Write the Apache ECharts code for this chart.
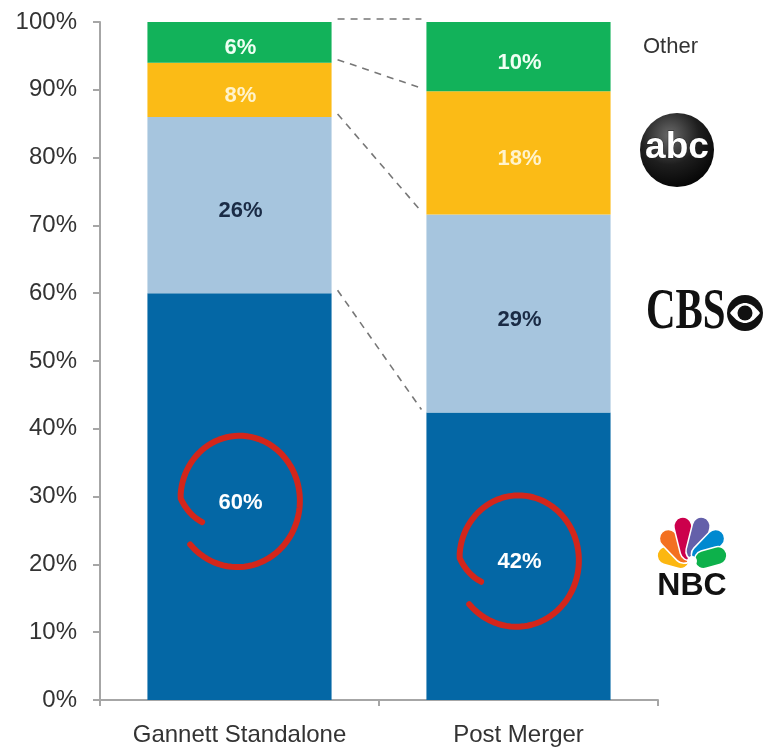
<!DOCTYPE html>
<html>
<head>
<meta charset="utf-8">
<style>html,body{margin:0;padding:0;background:#fff;}#c{width:763px;height:747px;}</style>
<script src="https://cdn.jsdelivr.net/npm/echarts@6/dist/echarts.min.js"></script>
</head>
<body>
<div id="c"></div>
<script>
// ---- data ----
const categories = ['Gannett Standalone', 'Post Merger'];
const nbc   = [60, 42.4];
const cbs   = [26, 29.2];
const abc   = [8, 18.2];
const other = [6, 10.2];
const yTicks = [0, 10, 20, 30, 40, 50, 60, 70, 80, 90, 100];
const networkNames = ['NBC', 'CBS', 'ABC', 'Other'];

const FONT = '"Liberation Sans", Arial, sans-serif';
const colors = { NBC: '#0467a5', CBS: '#a6c5de', ABC: '#fbbb16', Other: '#12b25a' };
const labelColors = { NBC: '#ffffff', CBS: '#1a2b45', ABC: '#fff3cc', Other: '#eefff3' };
const seriesData = { NBC: nbc, CBS: cbs, ABC: abc, Other: other };

// cumulative boundaries for connectors
function cum(i, upto) { let s = 0; for (let k = 0; k <= upto; k++) s += seriesData[networkNames[k]][i]; return s; }
const connectorData = [];
for (let k = 0; k < networkNames.length; k++) {
  connectorData.push([0, Math.min(100, cum(0, k)), Math.min(100, cum(1, k))]);
}
const circleData = [[0, nbc[0] / 2], [1, nbc[1] / 2]];

const chart = echarts.init(document.getElementById('c'));

const barSeries = networkNames.map(n => ({
  name: n,
  type: 'bar',
  stack: 'share',
  barWidth: '66%',
  data: seriesData[n],
  itemStyle: { color: colors[n] },
  label: {
    show: true,
    position: 'inside',
    offset: [1, 6],
    formatter: p => Math.round(p.value) + '%',
    fontFamily: FONT,
    fontWeight: 'bold',
    fontSize: 22,
    color: labelColors[n]
  },
  silent: true
}));

// CBS eye lens polygon
function lens(cx, cy, w, h) {
  const pts = [];
  const N = 20;
  for (let i = 0; i <= N; i++) { const t = -1 + 2 * i / N; pts.push([cx + t * w, cy - h * (1 - t * t)]); }
  for (let i = N - 1; i > 0; i--) { const t = -1 + 2 * i / N; pts.push([cx + t * w, cy + h * (1 - t * t)]); }
  return pts;
}

// NBC peacock feathers
const featherColors = ['#fcb711', '#f37021', '#cc004c', '#6460aa', '#0089d0', '#0db14b'];
const featherAngles = [-74, -44, -14, 14, 44, 74];
const featherLens = [36, 43, 47, 47, 43, 36];
const feathers = featherColors.map((c, i) => ({
  type: 'rect',
  x: 692, y: 563,
  rotation: -featherAngles[i] * Math.PI / 180,
  shape: { x: -9, y: -featherLens[i], width: 18, height: featherLens[i] - 3, r: 9 },
  style: { fill: c, stroke: '#fff', lineWidth: 1.5 },
  z: 10
}));

const option = {
  animation: false,
  backgroundColor: '#ffffff',
  grid: { left: 100, right: 105, top: 22, bottom: 45 },
  xAxis: {
    type: 'category',
    data: categories,
    axisLine: { lineStyle: { color: '#a6a6a6', width: 2 } },
    axisTick: { show: true, length: 6, lineStyle: { color: '#a6a6a6', width: 2 } },
    axisLabel: { fontFamily: FONT, fontSize: 24, color: '#333', margin: 23 }
  },
  yAxis: {
    type: 'value',
    min: yTicks[0], max: yTicks[yTicks.length - 1], interval: yTicks[1] - yTicks[0],
    axisLine: { show: true, lineStyle: { color: '#a6a6a6', width: 2 } },
    axisTick: { show: true, length: 7, lineStyle: { color: '#a6a6a6', width: 2 } },
    splitLine: { show: false },
    axisLabel: { formatter: '{value}%', fontFamily: FONT, fontSize: 24, color: '#333', margin: 23 }
  },
  series: barSeries.concat([
    {
      type: 'custom',
      name: 'connectors',
      silent: true,
      z: 5,
      data: connectorData,
      encode: { x: 0, y: [1, 2] },
      renderItem: function (params, api) {
        const p0 = api.coord([0, api.value(1)]);
        const p1 = api.coord([1, api.value(2)]);
        const hw = api.size([1, 0])[0] * 0.66 / 2;
        return {
          type: 'line',
          shape: { x1: p0[0] + hw + 6, y1: p0[1] - 3, x2: p1[0] - hw - 5, y2: p1[1] - 3 },
          style: { stroke: '#777', lineWidth: 1.6, lineDash: [7, 6] }
        };
      }
    },
    {
      type: 'custom',
      name: 'circles',
      silent: true,
      z: 6,
      data: circleData,
      encode: { x: 0, y: 1 },
      renderItem: function (params, api) {
        const c = api.coord([api.value(0), api.value(1)]);
        const pts = [];
        const N = 90;
        for (let k = 0; k <= N; k++) {
          const t = k / N;
          const phi = (150 + 349 * t) * Math.PI / 180;
          let r = t < 0.09 ? 42 + 16 * (t / 0.09) : 58 + 6 * (t - 0.09) / 0.91;
          pts.push([c[0] - 1 + r * Math.cos(phi), c[1] + 3 + r * 1.07 * Math.sin(phi)]);
        }
        return {
          type: 'polyline',
          shape: { points: pts },
          style: { stroke: '#d3261b', lineWidth: 6, fill: null, lineCap: 'round', lineJoin: 'round' }
        };
      }
    }
  ]),
  graphic: {
    elements: [
      { type: 'text', left: 643, top: 36, style: { text: 'Other', font: '22px ' + FONT, fill: '#333' } },
      // ABC logo
      {
        type: 'circle', shape: { cx: 677, cy: 150, r: 37 },
        style: {
          fill: {
            type: 'radial', x: 0.4, y: 0.3, r: 0.8,
            colorStops: [{ offset: 0, color: '#6a6a6a' }, { offset: 0.5, color: '#1e1e1e' }, { offset: 1, color: '#000' }]
          }
        }
      },
      {
        type: 'text', x: 677, y: 148,
        style: { text: 'abc', font: 'bold 37px ' + FONT, fill: '#fff', align: 'center', verticalAlign: 'middle', stroke: '#222', lineWidth: 1 },
        z: 10
      },
      // CBS logo
      {
        type: 'text', x: 646, y: 314, scaleX: 0.73,
        style: { text: 'CBS', font: 'bold 56px "Liberation Serif", "DejaVu Serif", serif', fill: '#111', align: 'left', verticalAlign: 'middle' }
      },
      { type: 'circle', shape: { cx: 745, cy: 313, r: 18 }, style: { fill: '#111' } },
      { type: 'polygon', shape: { points: lens(745, 313, 15, 10) }, style: { fill: '#fff' }, z: 10 },
      { type: 'circle', shape: { cx: 745, cy: 313, r: 7.5 }, style: { fill: '#111' }, z: 11 },
      // NBC logo
      ...feathers,
      { type: 'circle', shape: { cx: 692, cy: 561, r: 5 }, style: { fill: '#fff' }, z: 11 },
      {
        type: 'text', x: 692, y: 586,
        style: { text: 'NBC', font: 'bold 32px ' + FONT, fill: '#111', align: 'center', verticalAlign: 'middle' }
      }
    ]
  }
};

chart.setOption(option);
</script>
</body>
</html>
